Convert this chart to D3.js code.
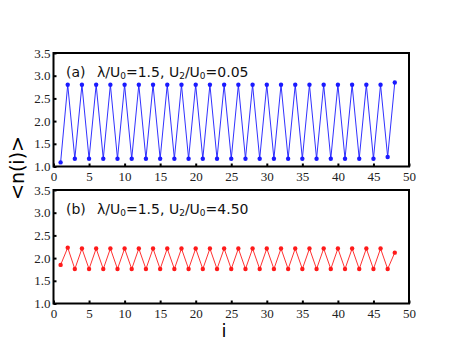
<!DOCTYPE html>
<html>
<head>
<meta charset="utf-8">
<script src="https://cdn.jsdelivr.net/npm/d3@7"></script>
<style>
  body { margin: 0; background: #fff; }
  .tick text { font-family: "Liberation Serif", "Times New Roman", serif; font-size: 13px; fill: #222; }
  .note { font-family: "DejaVu Sans", sans-serif; font-size: 14px; fill: #111; }
</style>
</head>
<body>
<div id="chart"></div>
<script>
// site index
const sites = d3.range(1, 49);

// panel (a): lambda/U0 = 1.5, U2/U0 = 0.05
const densityA = sites.map(i => i === 1 ? 1.09 : i === 48 ? 2.85 : i === 47 ? 1.21 : (i % 2 === 0 ? 2.80 : 1.17));
// panel (b): lambda/U0 = 1.5, U2/U0 = 4.50
const densityB = sites.map(i => i === 1 ? 1.85 : i === 2 ? 2.23 : i === 48 ? 2.12 : (i % 2 === 0 ? 2.21 : 1.76));

const xTicks = [0, 5, 10, 15, 20, 25, 30, 35, 40, 45, 50];
const yTicks = [1.0, 1.5, 2.0, 2.5, 3.0, 3.5];

const width = 463, height = 358;
const svg = d3.select('#chart').append('svg')
    .attr('width', width)
    .attr('height', height);

const x = d3.scaleLinear().domain([0, 50]).range([53.5, 409]);

const panels = [
    { top: 53, bottom: 166.5, data: densityA, color: '#1a1aff', label: '(a)', u2: '0.05' },
    { top: 190, bottom: 303.5, data: densityB, color: '#ff1a1a', label: '(b)', u2: '4.50' }
];

panels.forEach(p => {
    const y = d3.scaleLinear().domain([1.0, 3.5]).range([p.bottom, p.top]);
    const g = svg.append('g');

    // bottom axis, ticks pointing inward
    const xAxis = d3.axisBottom(x).tickValues(xTicks).tickSize(-3).tickPadding(5)
        .tickFormat(d3.format('d'));
    g.append('g')
        .attr('transform', `translate(0,${p.bottom})`)
        .call(xAxis)
        .call(s => s.select('.domain').remove())
        .call(s => s.selectAll('.tick line').attr('stroke', '#000').attr('stroke-width', 2));

    const yAxis = d3.axisLeft(y).tickValues(yTicks).tickSize(-3).tickPadding(3)
        .tickFormat(d3.format('.1f'));
    g.append('g')
        .attr('transform', `translate(${x(0)},0)`)
        .call(yAxis)
        .call(s => s.select('.domain').remove())
        .call(s => s.selectAll('.tick line').attr('stroke', '#000').attr('stroke-width', 2));

    // frame
    g.append('rect')
        .attr('x', x(0)).attr('y', p.top)
        .attr('width', x(50) - x(0)).attr('height', p.bottom - p.top)
        .attr('fill', 'none').attr('stroke', '#000').attr('stroke-width', 2);

    const line = d3.line().x((d, i) => x(sites[i])).y(d => y(d));
    g.append('path')
        .datum(p.data)
        .attr('d', line)
        .attr('fill', 'none')
        .attr('stroke', p.color)
        .attr('stroke-width', 0.9);

    g.selectAll('circle')
        .data(p.data)
        .enter()
        .append('circle')
        .attr('cx', (d, i) => x(sites[i]))
        .attr('cy', d => y(d))
        .attr('r', 2.2)
        .attr('fill', p.color);

    // annotation with subscripts
    const t = g.append('text')
        .attr('class', 'note')
        .attr('x', 66)
        .attr('y', p.top + 24);
    t.append('tspan').text(p.label);
    t.append('tspan').attr('x', 97).text('λ/U');
    t.append('tspan').attr('font-size', '9px').attr('dy', 2).text('0');
    t.append('tspan').attr('dy', -2).text('=1.5, U');
    t.append('tspan').attr('font-size', '9px').attr('dy', 2).text('2');
    t.append('tspan').attr('dy', -2).text('/U');
    t.append('tspan').attr('font-size', '9px').attr('dy', 2).text('0');
    t.append('tspan').attr('dy', -2).text('=' + p.u2);
});

// axis titles
svg.append('text')
    .attr('transform', 'translate(24,168) rotate(-90)')
    .attr('text-anchor', 'middle')
    .attr('font-family', 'DejaVu Sans, sans-serif')
    .attr('font-size', '19px')
    .text('<n(i)>');

svg.append('text')
    .attr('x', 224)
    .attr('y', 337)
    .attr('text-anchor', 'middle')
    .attr('font-family', 'DejaVu Sans, sans-serif')
    .attr('font-size', '18px')
    .text('i');
</script>
</body>
</html>
